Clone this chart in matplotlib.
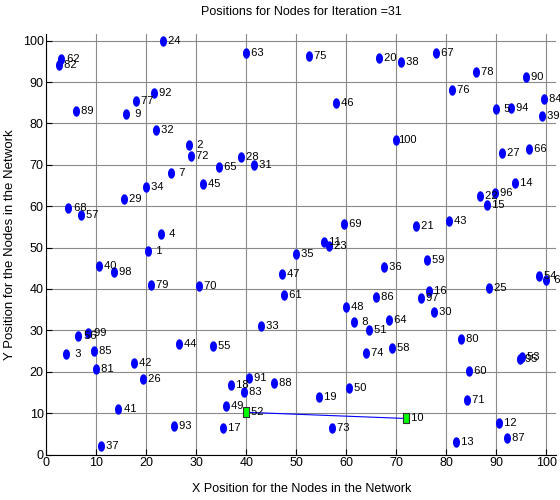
import numpy as np
import matplotlib
matplotlib.use('agg')
import matplotlib.pyplot as plt
from matplotlib.path import Path

plt.rcParams['font.family'] = ['Liberation Sans Narrow', 'Liberation Sans', 'DejaVu Sans']

# node positions for iteration 31
node_id = list(range(1, 101))
node_x = [20.4, 28.5, 4.0, 23.0, 90.0, 100.0, 25.0, 61.5, 16.0, 72.0,
          55.5, 90.6, 82.0, 93.7, 88.2, 76.5, 35.4, 36.9, 54.5, 66.5,
          74.0, 86.7, 56.5, 23.3, 88.5, 19.4, 91.1, 39.0, 15.5, 77.6,
          41.5, 21.9, 43.0, 20.0, 50.0, 67.5, 10.9, 71.0, 99.1, 10.5,
          14.4, 17.5, 80.5, 26.5, 31.4, 58.0, 47.1, 60.0, 36.0, 60.5,
          64.5, 39.9, 95.1, 98.5, 33.4, 6.4, 6.9, 69.1, 76.1, 84.5,
          47.5, 3.0, 40.0, 68.5, 34.5, 96.5, 78.0, 4.4, 59.5, 30.5,
          84.1, 29.0, 57.1, 63.9, 52.5, 81.1, 18.0, 86.0, 20.9, 83.0,
          9.9, 2.5, 39.5, 99.5, 9.5, 66.0, 92.1, 45.5, 5.9, 96.0,
          40.5, 21.5, 25.5, 93.0, 94.7, 89.7, 75.0, 13.5, 8.4, 70.0]
node_y = [49.2, 74.9, 24.2, 53.3, 83.4, 42.2, 68.1, 32.0, 82.2, 8.7,
          51.3, 7.7, 3.1, 65.6, 60.3, 39.6, 6.4, 16.7, 14.0, 95.7,
          55.1, 62.4, 50.4, 99.8, 40.3, 18.2, 72.9, 71.8, 61.7, 34.5,
          69.9, 78.4, 31.1, 64.6, 48.5, 45.2, 2.0, 94.8, 81.9, 45.6,
          11.0, 22.2, 56.3, 26.7, 65.3, 85.0, 43.7, 35.7, 11.6, 16.1,
          30.2, 10.2, 23.6, 43.2, 26.1, 28.7, 57.8, 25.7, 47.0, 20.1,
          38.6, 95.5, 96.9, 32.5, 69.5, 73.9, 97.1, 59.6, 55.8, 40.8,
          13.1, 72.2, 6.3, 24.6, 96.3, 88.0, 85.3, 92.4, 41.0, 28.0,
          20.6, 94.0, 15.2, 85.8, 25.1, 38.1, 4.1, 17.2, 82.9, 91.3,
          18.6, 87.4, 7.0, 83.6, 23.0, 63.3, 37.8, 44.0, 29.4, 75.9]
anchors = [52, 10]

t = np.linspace(0, 2 * np.pi, 40)
dot = Path(np.column_stack([0.62 * np.cos(t), np.sin(t)]))
box = Path([(-0.6, -1), (0.6, -1), (0.6, 1), (-0.6, 1), (-0.6, -1)],
           [Path.MOVETO, Path.LINETO, Path.LINETO, Path.LINETO, Path.CLOSEPOLY])

fig = plt.figure(figsize=(5.6, 5.0), dpi=100)
ax = fig.add_axes([0.083, 0.091, 0.91, 0.841])

ax.set_xlim(0, 102)
ax.set_ylim(0, 101.6)
ax.set_xticks(range(0, 101, 10))
ax.set_yticks(range(0, 101, 10))
ax.grid(True, color='#8a8a8a', lw=0.8)
ax.set_axisbelow(True)
for s in ['top', 'right']:
    ax.spines[s].set_visible(False)
ax.tick_params(direction='in', length=4, labelsize=9, pad=2)

ax.set_title('Positions for Nodes for Iteration =31', fontsize=9, pad=14)
ax.set_xlabel('X Position for the Nodes in the Network', fontsize=9, labelpad=10)
ax.set_ylabel('Y Position for the Nodes in the Network', fontsize=9.5, labelpad=5)

ax_i = [node_id.index(a) for a in anchors]
ax.plot([node_x[i] for i in ax_i], [node_y[i] for i in ax_i], color='blue', lw=0.8)

for n, x, y in zip(node_id, node_x, node_y):
    if n in anchors:
        ax.plot(x, y, marker=box, ms=7.5, mfc='#00ff00', mec='#303030', mew=0.8, ls='none', zorder=3)
    else:
        ax.plot(x, y, marker=dot, ms=6.5, mfc='blue', mec='blue', ls='none', zorder=3)
    ax.annotate('%3d' % n, (x, y), xytext=(1.5, 0), textcoords='offset points',
                va='center', ha='left', fontsize=8, zorder=4, annotation_clip=False)

fig.savefig('out.png', dpi=100)
